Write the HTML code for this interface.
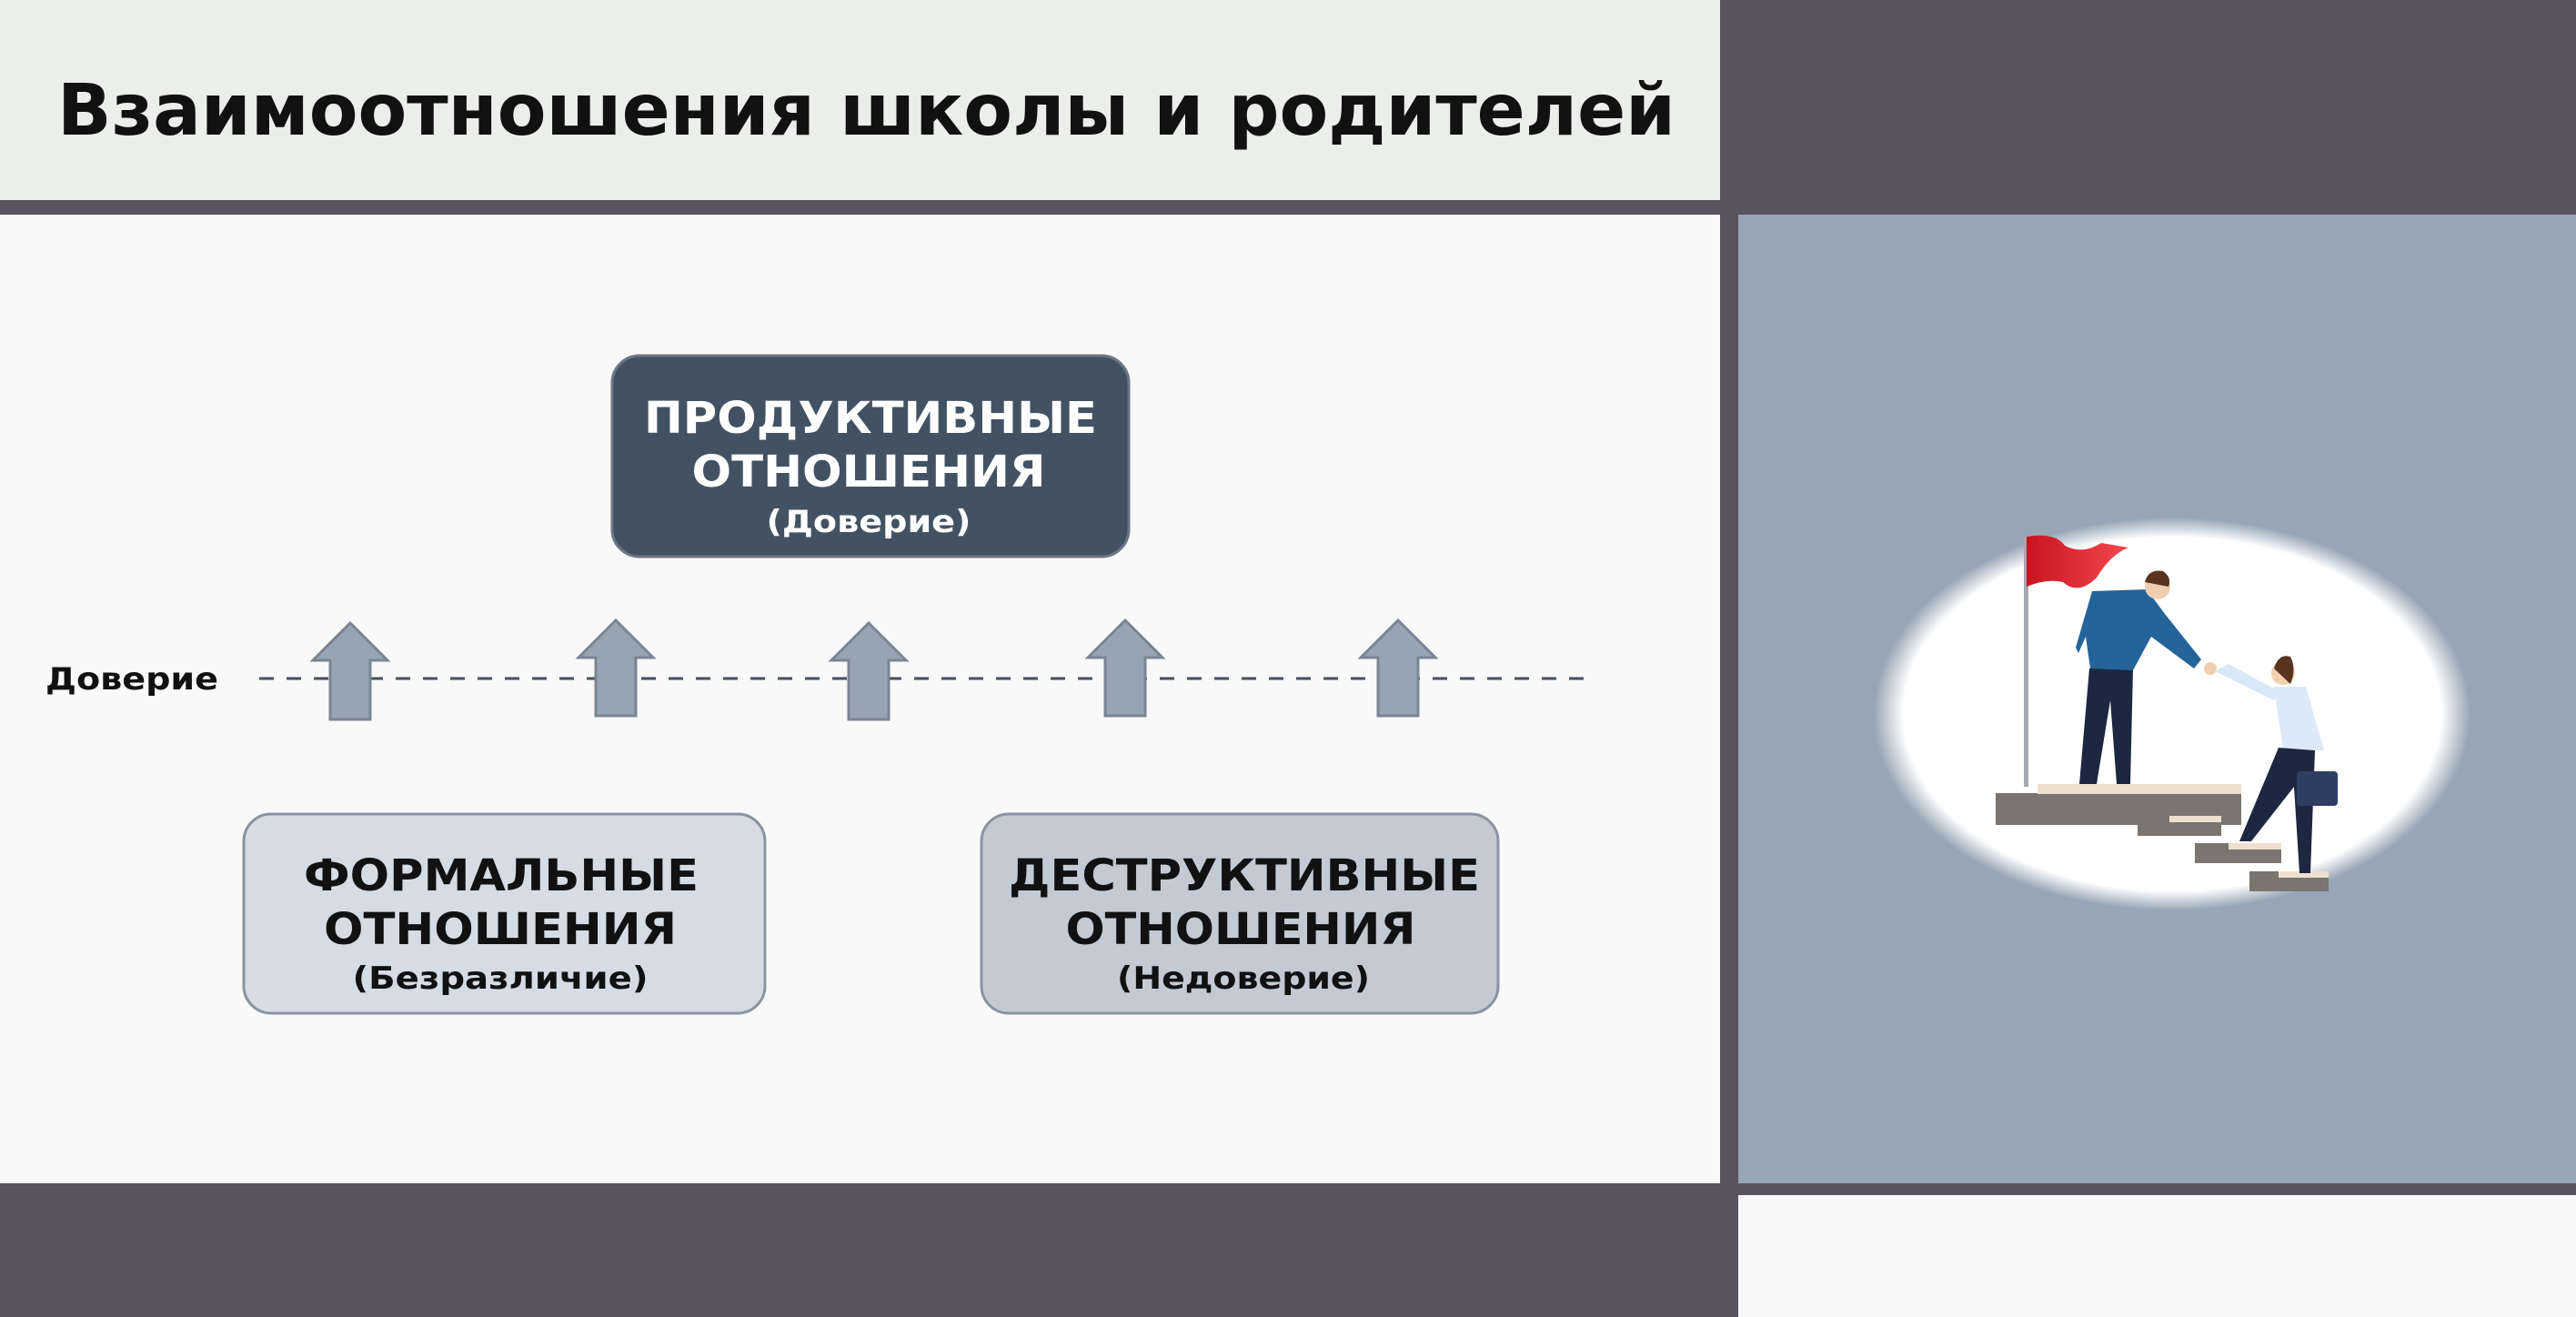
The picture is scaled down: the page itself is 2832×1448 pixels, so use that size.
<!DOCTYPE html>
<html><head><meta charset="utf-8"><style>
html,body{margin:0;padding:0;width:2832px;height:1448px;overflow:hidden;background:#5A5360}
svg{display:block}
</style></head><body>
<svg width="2832" height="1448" viewBox="0 0 2832 1448" xmlns="http://www.w3.org/2000/svg">
<defs>
<radialGradient id="glow" cx="50%" cy="50%" r="50%">
<stop offset="0.9" stop-color="#ffffff"/>
<stop offset="1" stop-color="#97A6B6"/>
</radialGradient>
<linearGradient id="flag" x1="0" x2="1"><stop offset="0" stop-color="#c8141e"/><stop offset="1" stop-color="#f4484e"/></linearGradient>
</defs>
<rect x="0" y="0" width="2832" height="1448" fill="#5A5360"/>
<rect x="0" y="0" width="1891" height="220" fill="#ECEEEB"/>
<rect x="0" y="236" width="1891" height="1065" fill="#F9F9F9"/>
<rect x="1911" y="236" width="921" height="1065" fill="#97A6B6"/>
<rect x="1911" y="1314" width="921" height="134" fill="#F9F9F9"/>

<text x="63" y="148" font-family="DejaVu Sans, sans-serif" font-weight="bold" font-size="78" fill="#111" textLength="1779" lengthAdjust="spacingAndGlyphs">Взаимоотношения школы и родителей</text>

<rect x="673" y="391" width="568" height="221" rx="30" fill="#435263" stroke="#6b7785" stroke-width="3"/>
<g font-family="DejaVu Sans, sans-serif" font-weight="bold" fill="#fff" text-anchor="middle">
<text x="957" y="476" font-size="48" textLength="498" lengthAdjust="spacingAndGlyphs">ПРОДУКТИВНЫЕ</text>
<text x="955" y="535" font-size="48" textLength="389" lengthAdjust="spacingAndGlyphs">ОТНОШЕНИЯ</text>
<text x="955" y="585" font-size="34" textLength="225" lengthAdjust="spacingAndGlyphs">(Доверие)</text>
</g>

<rect x="268" y="895" width="573" height="219" rx="30" fill="#D5DCE4" stroke="#8a94a0" stroke-width="3"/>
<rect x="1079" y="895" width="568" height="219" rx="30" fill="#C3CAD4" stroke="#8a94a0" stroke-width="3"/>
<g font-family="DejaVu Sans, sans-serif" font-weight="bold" fill="#111" text-anchor="middle">
<text x="551" y="979" font-size="48" textLength="434" lengthAdjust="spacingAndGlyphs">ФОРМАЛЬНЫЕ</text>
<text x="550" y="1038" font-size="48" textLength="388" lengthAdjust="spacingAndGlyphs">ОТНОШЕНИЯ</text>
<text x="550" y="1087" font-size="34" textLength="325" lengthAdjust="spacingAndGlyphs">(Безразличие)</text>
<text x="1368" y="979" font-size="48" textLength="518" lengthAdjust="spacingAndGlyphs">ДЕСТРУКТИВНЫЕ</text>
<text x="1364" y="1038" font-size="48" textLength="385" lengthAdjust="spacingAndGlyphs">ОТНОШЕНИЯ</text>
<text x="1367" y="1087" font-size="34" textLength="278" lengthAdjust="spacingAndGlyphs">(Недоверие)</text>
</g>

<text x="50" y="758" font-family="DejaVu Sans, sans-serif" font-weight="bold" font-size="34" fill="#111" textLength="190" lengthAdjust="spacingAndGlyphs">Доверие</text>
<line x1="285" y1="746" x2="1755" y2="746" stroke="#44505e" stroke-width="3" stroke-dasharray="16 14"/>

<g fill="#97A4B3" stroke="#7a8594" stroke-width="3">
<path d="M385 685 L426 726 L407 726 L407 791 L363 791 L363 726 L344 726 Z"/>
<path d="M677 682 L718 723 L699 723 L699 787 L655 787 L655 723 L636 723 Z"/>
<path d="M955 685 L996 726 L977 726 L977 791 L933 791 L933 726 L914 726 Z"/>
<path d="M1237 682 L1278 723 L1259 723 L1259 787 L1215 787 L1215 723 L1196 723 Z"/>
<path d="M1537 682 L1578 723 L1559 723 L1559 787 L1515 787 L1515 723 L1496 723 Z"/>
</g>

<ellipse cx="2388" cy="785" rx="328" ry="216" fill="url(#glow)"/>
<rect x="2225" y="590" width="5" height="275" fill="#a5a9b0"/>
<path d="M2228 590 Q2260 585 2270 600 Q2290 610 2310 597 L2340 602 Q2320 610 2305 635 Q2285 655 2268 640 Q2250 636 2228 645 Z" fill="url(#flag)"/>
<rect x="2194" y="872" width="270" height="35" fill="#7a756e"/>
<rect x="2240" y="862" width="224" height="11" fill="#eee0d0"/>
<rect x="2350" y="897" width="92" height="22" fill="#7a756e"/><rect x="2385" y="897" width="57" height="7" fill="#eee0d0"/>
<rect x="2413" y="927" width="95" height="22" fill="#7a756e"/><rect x="2450" y="927" width="58" height="7" fill="#eee0d0"/>
<rect x="2473" y="958" width="87" height="22" fill="#7a756e"/><rect x="2505" y="958" width="55" height="7" fill="#eee0d0"/>
<path d="M2297 735 L2345 735 L2342 862 L2327 862 L2320 770 L2305 862 L2286 862 Z" fill="#1d2740"/>
<path d="M2300 650 L2360 648 L2380 675 L2420 725 L2412 735 L2365 700 L2345 737 L2298 735 L2293 700 L2285 718 L2282 712 Z" fill="#24649a"/>
<circle cx="2372" cy="645" r="14" fill="#f0cfb0"/>
<path d="M2358 640 Q2362 625 2378 628 Q2388 635 2384 645 Z" fill="#5a3320"/>
<circle cx="2430" cy="735" r="7" fill="#f0cfb0"/>
<path d="M2435 738 L2500 770 L2505 760 L2450 730 Z" fill="#d9e8f7"/>
<path d="M2500 755 L2535 755 L2555 825 L2510 825 Z" fill="#dbe9f8"/>
<circle cx="2510" cy="740" r="13" fill="#f0cfb0"/>
<path d="M2500 735 Q2505 718 2518 722 Q2525 735 2518 752 Z" fill="#5a3320"/>
<path d="M2505 822 L2545 825 L2540 960 L2528 960 L2522 865 L2475 925 L2462 925 Z" fill="#1d2740"/>
<rect x="2525" y="848" width="45" height="38" rx="4" fill="#2f3e62"/>
</svg>
</body></html>
